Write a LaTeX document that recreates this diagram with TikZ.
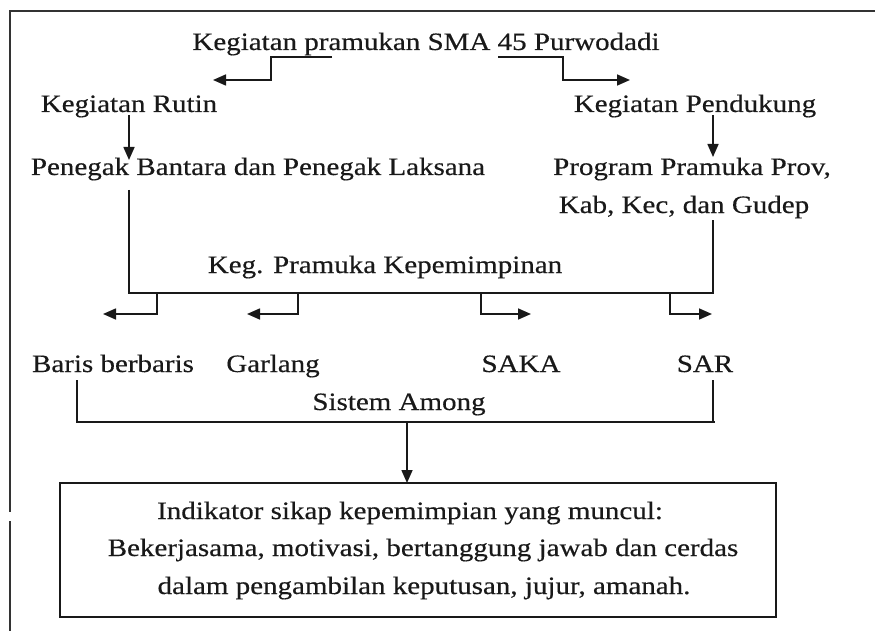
\documentclass[tikz,border=0pt]{standalone}
\usepackage{fontspec}
\setmainfont{Liberation Serif}[FakeStretch=1.16,FakeBold=0.4]
\usetikzlibrary{arrows.meta}
\begin{document}
\begin{tikzpicture}[x=1pt,y=-1pt,
  lbl/.style={anchor=base,inner sep=0pt,font=\fontsize{25}{38}\selectfont,text=black!90},
  conn/.style={line width=1.6pt,draw=black!90},
  arr/.style={conn,-{Triangle[length=13pt,width=11pt]}},
  frame/.style={line width=1.7pt,draw=black!80}]
\useasboundingbox (0,0) rectangle (875,631);
% outer frame (top and left)
\draw[frame] (875,11) -- (10,11) -- (10,512);
\draw[frame] (10,521) -- (10,631);
% texts
\node[lbl] (title) at (426,50) {Kegiatan pramukan SMA 45 Purwodadi};
\node[lbl] (rutin) at (129,112) {Kegiatan Rutin};
\node[lbl] (pendukung) at (695,112) {Kegiatan Pendukung};
\node[lbl] (penegak) at (258,175) {Penegak Bantara dan Penegak Laksana};
\node[lbl] (program1) at (692,175) {Program Pramuka Prov,};
\node[lbl] (program2) at (684,213) {Kab, Kec, dan Gudep};
\node[lbl] (keg) at (385,273) {Keg. Pramuka Kepemimpinan};
\node[lbl] (baris) at (113,372) {Baris berbaris};
\node[lbl] (garlang) at (273,372) {Garlang};
\node[lbl] (saka) at (521,372) {SAKA};
\node[lbl] (sar) at (705,372) {SAR};
\node[lbl] (among) at (399,410) {Sistem Among};
% result box
\node[draw=black!90,line width=1.7pt,minimum width=716pt,minimum height=134pt,inner sep=0pt] (box) at (418,550) {};
\node[lbl] (ind1) at (410,519) {Indikator sikap kepemimpian yang muncul:};
\node[lbl] (ind2) at (423,556) {Bekerjasama, motivasi, bertanggung jawab dan cerdas};
\node[lbl] (ind3) at (424,594) {dalam pengambilan keputusan, jujur, amanah.};
% named connector points
\coordinate (tL) at (332,57);
\coordinate (tR) at (498,57);
\coordinate (rutinIn) at (213,80);
\coordinate (pendIn) at (630,80);
\coordinate (rutinOut) at (129,115);
\coordinate (penegakIn) at (129,160);
\coordinate (pendOut) at (713,115);
\coordinate (progIn) at (713,157);
\coordinate (penegakOut) at (129,190);
\coordinate (progOut) at (713,220);
\coordinate (barisIn) at (103,314);
\coordinate (garlangIn) at (247,314);
\coordinate (sakaIn) at (531,314);
\coordinate (sarIn) at (712,314);
\coordinate (barisOut) at (77,380);
\coordinate (sarOut) at (713,380);
\coordinate (amongOut) at (407,422);
\coordinate (boxIn) at (407,483);
% connectors
\draw[arr] (tL) -| (271,80) -- (rutinIn);
\draw[arr] (tR) -| (563,80) -- (pendIn);
\draw[arr] (rutinOut) -- (penegakIn);
\draw[arr] (pendOut) -- (progIn);
\draw[conn] (penegakOut) |- (713,293) -- (progOut);
\draw[arr] (157,293) |- (barisIn);
\draw[arr] (298,293) |- (garlangIn);
\draw[arr] (481,293) |- (sakaIn);
\draw[arr] (670,293) |- (sarIn);
\draw[conn] (barisOut) |- (715,422);
\draw[conn] (sarOut) -- (713,422);
\draw[arr] (amongOut) -- (boxIn);
\end{tikzpicture}
\end{document}
